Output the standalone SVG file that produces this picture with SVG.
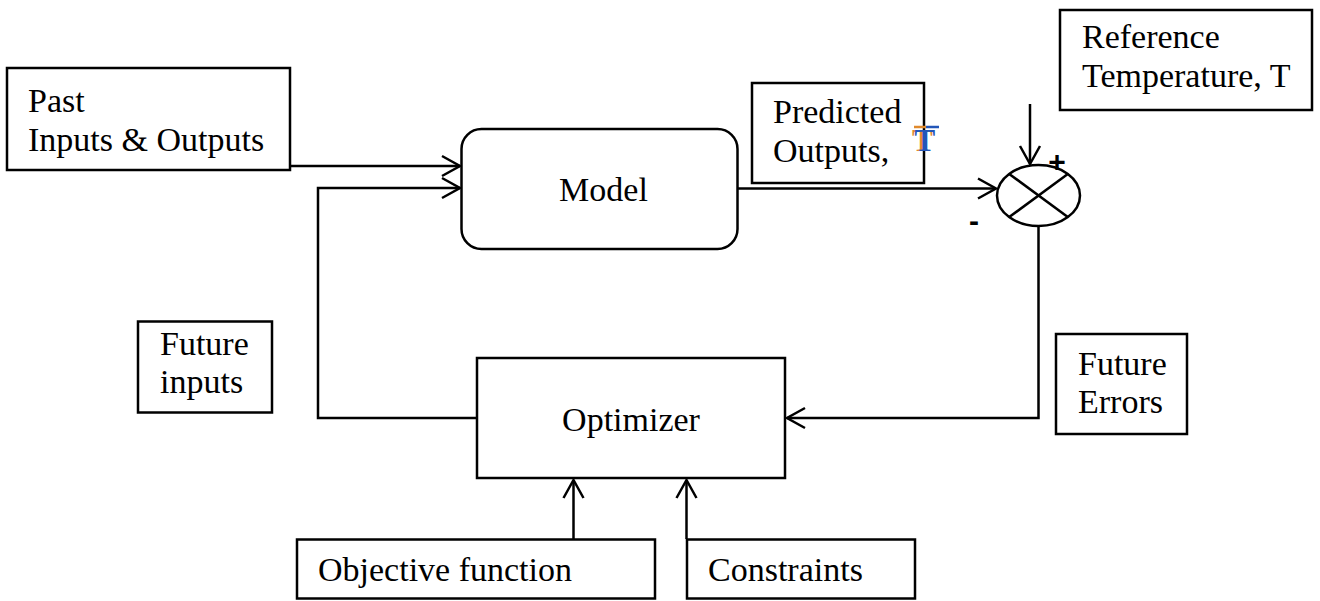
<svg xmlns="http://www.w3.org/2000/svg" width="1320" height="601" viewBox="0 0 1320 601">
<style>
.box{fill:#fff;stroke:#000;stroke-width:2.5}
.t{font-family:"Liberation Serif","Times New Roman",serif;font-size:34px;fill:#000}
.c{fill:none;stroke:#000;stroke-width:2.5}
.s{font-family:"Liberation Sans",Arial,sans-serif;font-weight:bold;font-size:30px;fill:#000}
</style>
<defs>
<marker id="arr" markerUnits="userSpaceOnUse" markerWidth="24" markerHeight="26" viewBox="-20 -12 24 24" refX="0" refY="0" orient="auto">
<path d="M-18,-10 L0,0 L-18,10" fill="none" stroke="#000" stroke-width="2.5"/>
</marker>
</defs>
<rect width="1320" height="601" fill="#fff"/>
<g id="connectors">
<path class="c" d="M290,166 H460" marker-end="url(#arr)"/>
<path class="c" d="M477,418 H318 V188 H460" marker-end="url(#arr)"/>
<path class="c" d="M738,188.5 H996" marker-end="url(#arr)"/>
<path class="c" d="M1030,104 V164" marker-end="url(#arr)"/>
<path class="c" d="M1038.5,226 V418 H787" marker-end="url(#arr)"/>
<path class="c" d="M573.5,539 V480" marker-end="url(#arr)"/>
<path class="c" d="M686.5,539 V480" marker-end="url(#arr)"/>
</g>
<g id="past">
<rect class="box" x="7" y="68" width="283" height="102"/>
<text class="t" x="28" y="112">Past</text>
<text class="t" x="28" y="151">Inputs &amp; Outputs</text>
</g>
<g id="model">
<rect class="box" x="461.5" y="129" width="276" height="120" rx="20"/>
<text class="t" x="603.5" y="201" text-anchor="middle">Model</text>
</g>
<g id="predicted">
<rect class="box" x="752" y="83" width="172" height="100"/>
<text class="t" x="773" y="123">Predicted</text>
<text class="t" x="773" y="162">Outputs,</text>
<line x1="914" y1="127" x2="926" y2="127" stroke="#e08a2c" stroke-width="2.5"/>
<line x1="926" y1="127" x2="939" y2="127" stroke="#2356b8" stroke-width="2.5"/>
<text x="912" y="151" style="font-family:'Liberation Serif',serif;font-weight:bold;font-size:31px;fill:#e08a2c">T</text>
<text x="914.5" y="151" style="font-family:'Liberation Serif',serif;font-weight:bold;font-size:31px;fill:#2356b8">T</text>
</g>
<g id="reference">
<rect class="box" x="1060" y="10" width="252" height="100"/>
<text class="t" x="1082" y="48">Reference</text>
<text class="t" x="1082" y="87">Temperature, T</text>
</g>
<g id="sum">
<ellipse class="box" cx="1038.5" cy="195.5" rx="41.5" ry="30.5"/>
<line class="c" x1="1009.2" y1="173.9" x2="1067.8" y2="217.1"/>
<line class="c" x1="1067.8" y1="173.9" x2="1009.2" y2="217.1"/>
<text class="s" x="1057" y="172" text-anchor="middle">+</text>
<text class="s" x="974" y="231" text-anchor="middle">-</text>
</g>
<g id="future-inputs">
<rect class="box" x="138" y="321.5" width="134" height="91"/>
<text class="t" x="160" y="355">Future</text>
<text class="t" x="160" y="393">inputs</text>
</g>
<g id="optimizer">
<rect class="box" x="477" y="358" width="308" height="120"/>
<text class="t" x="631" y="431" text-anchor="middle">Optimizer</text>
</g>
<g id="future-errors">
<rect class="box" x="1056" y="334" width="131" height="100"/>
<text class="t" x="1078" y="375">Future</text>
<text class="t" x="1078" y="413">Errors</text>
</g>
<g id="objective">
<rect class="box" x="297" y="539.5" width="358" height="59"/>
<text class="t" x="318" y="581">Objective function</text>
</g>
<g id="constraints">
<rect class="box" x="687" y="539.5" width="228" height="59"/>
<text class="t" x="708" y="581">Constraints</text>
</g>
</svg>
